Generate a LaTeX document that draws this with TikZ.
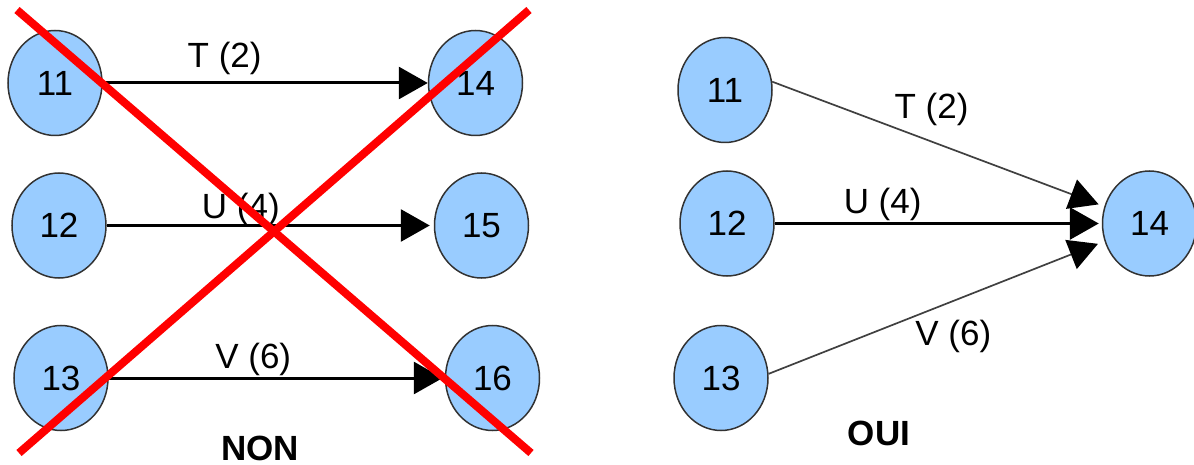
\documentclass[tikz,border=0pt]{standalone}
\usepackage{fontspec}
\setmainfont{Liberation Sans}
\usepackage{xcolor}
\usetikzlibrary{arrows.meta, shapes.geometric, positioning}
\definecolor{bleu}{RGB}{153,204,255}
\definecolor{bord}{RGB}{50,50,50}
\tikzset{
  etape/.style={ellipse, draw=bord, fill=bleu, line width=1.5pt, inner sep=0pt,
    minimum width=94pt, minimum height=105pt, font=\fontsize{35pt}{40pt}\selectfont},
  lbl/.style={font=\fontsize{35pt}{40pt}\selectfont, anchor=base, inner sep=0pt},
  titre/.style={font=\bfseries\fontsize{35pt}{40pt}\selectfont, anchor=base, inner sep=0pt},
  fleche/.style={line width=3pt, -{Triangle[length=29pt,width=32pt]}},
  fine/.style={line width=1.7pt, draw=black!75, -{Triangle[length=29pt,width=31pt,color=black]}},
  croix/.style={draw=red, line width=8pt}
}
\begin{document}
\begin{tikzpicture}[x=1pt,y=-1pt]
\useasboundingbox (0,0) rectangle (1194,465);
% NON
\node[etape] (a1) at (55,83) {11};
\node[etape, below=36pt of a1, xshift=4pt] (a2) {12};
\node[etape, below=46pt of a2, xshift=2pt] (a3) {13};
\node[etape, right=325pt of a1] (a4) {14};
\node[etape, right=327pt of a2] (a5) {15};
\node[etape, right=336pt of a3] (a6) {16};
\draw[fleche] (a1) -- node[lbl, pos=0.375, yshift=15pt] {T (2)} (a4);
\draw[fleche, shorten >=4pt] (a2) -- node[lbl, pos=0.41, yshift=7pt] {U (4)} (a5);
\draw[fleche, shorten >=2pt] (a3) -- node[lbl, pos=0.43, yshift=10pt] {V (6)} (a6);
\node[titre] (non) at (260,460) {NON};
\draw[croix] (17,10) -- (531,453);
\draw[croix] (529,10) -- (19,453);
% OUI
\node[etape] (b1) at (725,90) {11};
\node[etape, below=27pt of b1, xshift=2pt] (b2) {12};
\node[etape, below=48pt of b2, xshift=-6pt] (b3) {13};
\node[etape, right=327pt of b2] (b4) {14};
\draw[fine, shorten >=6pt] (b1.10) -- node[lbl, pos=0.48, yshift=23pt] {T (2)} (b4);
\draw[fleche, shorten >=3pt] (b2) -- node[lbl, pos=0.33, yshift=10pt] {U (4)} (b4);
\draw[fine, shorten >=7pt] (b3.5) -- node[lbl, pos=0.55, yshift=-45pt] {V (6)} (b4);
\node[titre] (oui) at (879,445) {OUI};
\end{tikzpicture}
\end{document}
